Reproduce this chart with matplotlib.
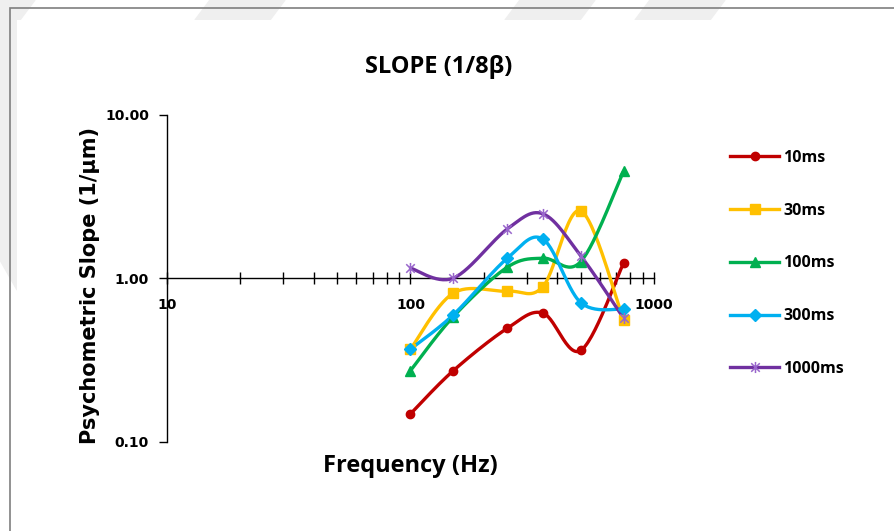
import numpy as np
import matplotlib
matplotlib.use("Agg")
import matplotlib.pyplot as plt
from matplotlib.lines import Line2D
from matplotlib.patches import Polygon, Rectangle
from matplotlib.path import Path

plt.rcParams['font.family'] = ['Open Sans', 'DejaVu Serif']

# frequencies (Hz) and psychometric slopes for each stimulus duration
freq = [100, 150, 250, 350, 500, 750]
slope_10ms = [0.148, 0.272, 0.494, 0.611, 0.361, 1.235]
slope_30ms = [0.368, 0.81, 0.832, 0.888, 2.58, 0.556]
slope_100ms = [0.272, 0.582, 1.167, 1.325, 1.26, 4.49]
slope_300ms = [0.368, 0.597, 1.325, 1.73, 0.709, 0.646]
slope_1000ms = [1.15, 1.0, 2.0, 2.47, 1.37, 0.569]

labels = ['10ms', '30ms', '100ms', '300ms', '1000ms']
colors = ['#C00000', '#FFC000', '#00B050', '#00B0F0', '#7030A0']

# asterisk marker: an x with a vertical bar through it
star = Path([(-1, -1), (1, 1), (-1, 1), (1, -1), (0, -1.3), (0, 1.3)],
            [Path.MOVETO, Path.LINETO, Path.MOVETO, Path.LINETO, Path.MOVETO, Path.LINETO])
markers = ['o', 's', '^', 'D', star]
msizes = [6, 6.5, 7.5, 6, 8]

W, H = 895, 531


def px(x, y):
    # figure pixel (top-left origin) -> figure fraction
    return x / W, 1 - y / H


def smooth(xs, ys, n=30):
    # Excel-style smoothed line: cubic Bezier segments in log-log space
    u = np.log10(xs)
    v = np.log10(ys)
    P = np.column_stack([u, v])
    out = []
    for i in range(len(P) - 1):
        p0 = P[max(i - 1, 0)]
        p1 = P[i]
        p2 = P[i + 1]
        p3 = P[min(i + 2, len(P) - 1)]
        c1 = p1 + (p2 - p0) / 6
        c2 = p2 - (p3 - p1) / 6
        t = np.linspace(0, 1, n)[:, None]
        seg = ((1 - t) ** 3) * p1 + 3 * ((1 - t) ** 2) * t * c1 + 3 * (1 - t) * t ** 2 * c2 + t ** 3 * p2
        out.append(seg if i == 0 else seg[1:])
    out = np.vstack(out)
    return 10 ** out[:, 0], 10 ** out[:, 1]


fig = plt.figure(figsize=(W / 100, H / 100), dpi=100)

# faint background chevrons and chart frame
wm = '#efefef'
for x0 in [-40, 210, 520, 650]:
    fig.patches.append(Polygon([px(x0, 0), px(x0 + 75, 0), px(x0 + 60, 20), px(x0 - 15, 20)],
                               closed=True, transform=fig.transFigure, color=wm, zorder=0))
for y0 in [-30, 110]:
    fig.patches.append(Polygon([px(0, y0), px(17, y0 + 30), px(17, y0 + 180), px(0, y0 + 150)],
                               closed=True, transform=fig.transFigure, color=wm, zorder=0))
x0, y0 = px(10, 8)
fig.patches.append(Rectangle((x0, -0.2), 1.2, y0 + 0.2, transform=fig.transFigure,
                             facecolor='none', edgecolor='#7f7f7f', lw=1.2, zorder=1))
fig.patches.append(Rectangle(px(17, 540), 1, 1 - 20 / H + 9 / H, transform=fig.transFigure,
                             facecolor='white', edgecolor='none', zorder=0.5))

l, b = px(167, 441.7)
r, t = px(654, 114.5)
ax = fig.add_axes([l, b, r - l, t - b])
ax.set_zorder(2)
ax.set_facecolor('none')
ax.set_xscale('log')
ax.set_yscale('log')
ax.set_xlim(10, 1000)
ax.set_ylim(0.1, 10)

for s in ['top', 'right']:
    ax.spines[s].set_visible(False)
ax.spines['bottom'].set_position(('data', 1.0))
ax.spines['bottom'].set_linewidth(1.0)
ax.spines['left'].set_linewidth(1.0)

tick_font = {'family': 'DejaVu Sans', 'size': 10, 'weight': 'bold'}
ax.set_yticks([0.1, 1, 10])
ax.set_yticklabels(['0.10', '1.00', '10.00'], fontdict=tick_font)
ax.yaxis.set_minor_locator(matplotlib.ticker.NullLocator())
ax.tick_params(axis='y', direction='out', length=6, width=1, pad=7)

ax.set_xticks([10, 100, 1000])
ax.set_xticklabels(['10', '100', '1000'], fontdict=tick_font)
ax.xaxis.set_minor_locator(matplotlib.ticker.LogLocator(base=10, subs=np.arange(2, 10)))
ax.xaxis.set_minor_formatter(matplotlib.ticker.NullFormatter())
ax.tick_params(axis='x', which='both', direction='inout', length=9, width=1, pad=10)

series = [slope_10ms, slope_30ms, slope_100ms, slope_300ms, slope_1000ms]
handles = []
for ys, c, m, ms, lab in zip(series, colors, markers, msizes, labels):
    sx, sy = smooth(freq, ys)
    ax.plot(sx, sy, color=c, lw=2.4, solid_capstyle='round', zorder=3, clip_on=False)
    if lab == '1000ms':
        ax.plot(freq, ys, ls='none', marker=m, ms=ms, mfc='none', mec='#9966CC', mew=1.1,
                zorder=4, clip_on=False)
        h = Line2D([], [], color=c, lw=2.4, marker=m, ms=ms, mfc='none', mec='#9966CC', mew=1.1)
    else:
        ax.plot(freq, ys, ls='none', marker=m, ms=ms, color=c, mec=c, zorder=4, clip_on=False)
        h = Line2D([], [], color=c, lw=2.4, marker=m, ms=ms, mec=c)
    handles.append(h)

lx, ly = px(722, 142)
fig.legend(handles, labels, loc='upper left', bbox_to_anchor=(lx, ly), frameon=False,
           prop={'size': 11.5, 'weight': 'bold'}, handlelength=3.1, handletextpad=0.25,
           labelspacing=2.3, borderpad=0)

fig.text(*px(439, 67), 'SLOPE (1/8β)', ha='center', va='center', fontsize=17, fontweight='bold')
fig.text(*px(90, 285), 'Psychometric Slope (1/µm)', ha='center', va='center', rotation=90,
         fontsize=15, fontweight='bold', family='DejaVu Sans')
fig.text(*px(410, 466), 'Frequency (Hz)', ha='center', va='center', fontsize=17, fontweight='bold')

fig.savefig('out.png', dpi=100)
